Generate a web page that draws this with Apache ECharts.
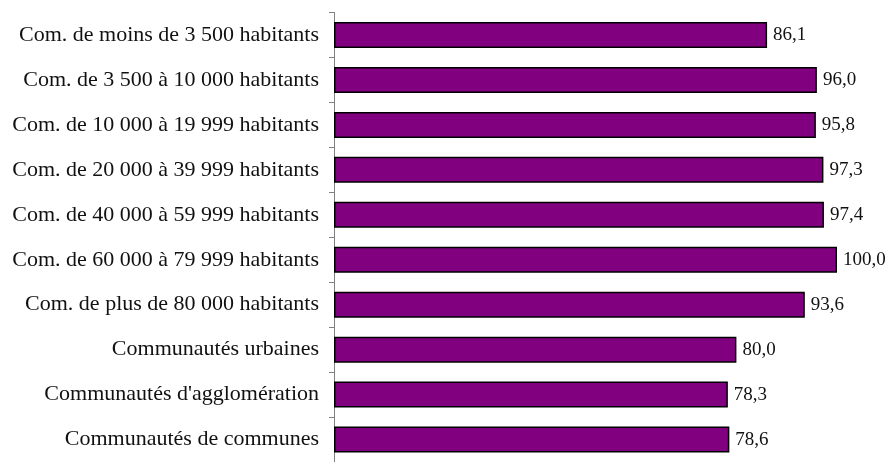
<!DOCTYPE html>
<html><head><meta charset="utf-8">
<script src="https://cdn.jsdelivr.net/npm/echarts@6/dist/echarts.min.js"></script>
<style>html,body{margin:0;padding:0;background:#fff}#c{width:892px;height:462px}</style>
</head><body><div id="c"></div>
<script>
const categories = [
  "Com. de moins de 3 500 habitants",
  "Com. de 3 500 à 10 000 habitants",
  "Com. de 10 000 à 19 999 habitants",
  "Com. de 20 000 à 39 999 habitants",
  "Com. de 40 000 à 59 999 habitants",
  "Com. de 60 000 à 79 999 habitants",
  "Com. de plus de 80 000 habitants",
  "Communautés urbaines",
  "Communautés d'agglomération",
  "Communautés de communes"
];
const values = [86.1, 96.0, 95.8, 97.3, 97.4, 100.0, 93.6, 80.0, 78.3, 78.6];

const chart = echarts.init(document.getElementById('c'));
chart.setOption({
  animation: false,
  grid: { left: 334, right: 55, top: 12.5, height: 453 },
  xAxis: { type: 'value', min: 0, max: 100, show: false },
  yAxis: {
    type: 'category', inverse: true, data: categories,
    axisLine: { lineStyle: { color: '#808080', width: 1 } },
    axisTick: { show: true, length: 5, lineStyle: { color: '#808080' } },
    axisLabel: { color: '#111', fontFamily: 'Liberation Serif', fontSize: 22, margin: 15 }
  },
  series: [{
    type: 'bar', data: values, barWidth: 26,
    itemStyle: { color: '#800080', borderColor: '#000', borderWidth: 1.5 },
    label: {
      show: true, position: 'right', distance: 6, color: '#111',
      fontFamily: 'Liberation Serif', fontSize: 19,
      formatter: p => p.value.toFixed(1).replace('.', ',')
    }
  }]
});
</script></body></html>
